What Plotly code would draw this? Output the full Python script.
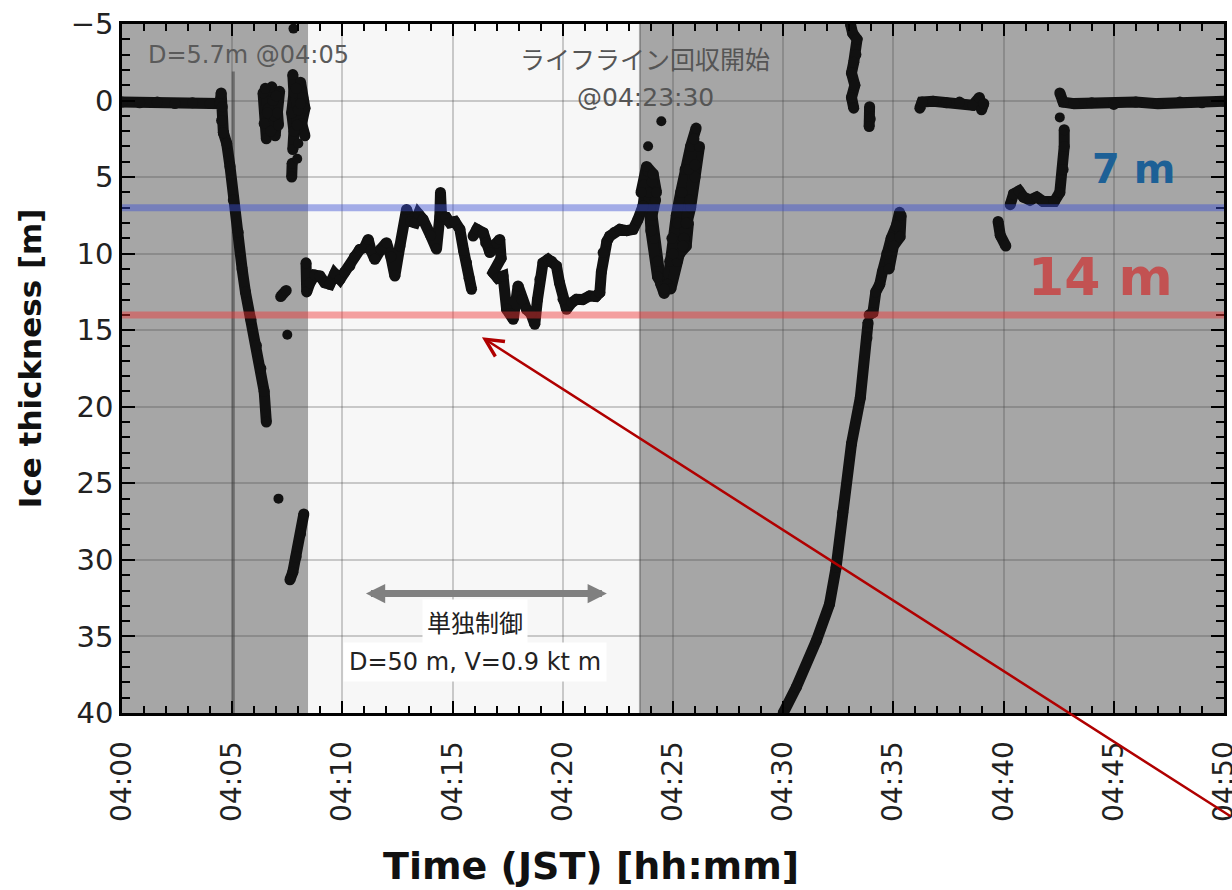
import plotly.graph_objects as go

# ---------------- data (x = minutes after 04:00, y = ice thickness [m]) ----------------
tick_minutes = [0, 5, 10, 15, 20, 25, 30, 35, 40, 45, 50]
tick_labels = ["04:00", "04:05", "04:10", "04:15", "04:20", "04:25",
               "04:30", "04:35", "04:40", "04:45", "04:50"]
y_ticks = [-5, 0, 5, 10, 15, 20, 25, 30, 35, 40]

flat_start_x = [0, 0.8, 1.6, 2.4, 3.2, 4.0, 4.45, 4.5, 4.55, 4.52, 4.6]
flat_start_y = [0.1, 0.15, 0.1, 0.2, 0.15, 0.2, 0.2, -0.5, 0.4, 1.3, 2.1]

drop_x = [4.6, 4.75, 4.9, 5.05, 5.27, 5.45, 5.6, 5.85, 6.1, 6.3, 6.45, 6.55]
drop_y = [2.1, 2.8, 4.3, 6.5, 8.6, 11.0, 12.5, 14.3, 16.0, 17.5, 19.0, 21.0]

blob1_x = [6.4, 6.45, 6.55, 6.65, 6.8, 6.9, 6.95, 7.05, 7.15]
blob1_y = [-0.5, 1.5, 2.5, 0.5, -0.9, 1.0, 2.3, 0.8, -0.6]
blob1b_x = [6.5, 6.6, 6.75, 6.85, 7.0, 7.1]
blob1b_y = [-0.8, 0.8, 2.0, 0.0, -0.3, 1.6]

blob2a_x = [7.75, 7.8, 7.7, 7.8, 7.75]
blob2a_y = [-1.7, -0.5, 0.8, 2.0, 3.2]
blob2b_x = [7.72, 7.7]
blob2b_y = [4.1, 5.0]
blob2c_x = [8.1, 8.2, 8.3, 8.15, 8.3]
blob2c_y = [-1.2, -0.2, 0.5, 1.5, 2.3]
blob2d_x = [7.9, 8.0, 7.95, 8.1]
blob2d_y = [-0.8, 0.6, 1.6, 0.2]

low_left_x = [7.2, 7.45]
low_left_y = [12.8, 12.4]
low_seg_x = [8.25, 8.1, 7.9, 7.75, 7.62]
low_seg_y = [27.0, 28.3, 29.8, 30.8, 31.3]

mid1_x = [8.35, 8.38, 8.53, 8.75, 8.98, 9.2, 9.43, 9.65, 9.89, 10.1, 10.34, 10.55, 10.79,
          11.0, 11.17, 11.3, 11.47, 11.75, 12.0, 12.2, 12.38, 12.61, 12.91, 13.1, 13.29,
          13.45, 13.66, 14.0, 14.27, 14.42, 14.45, 14.5, 14.7, 14.88, 15.1, 15.33,
          15.5, 15.63, 15.75, 15.86]
mid1_y = [10.6, 12.5, 11.9, 11.4, 11.46, 11.9, 12.0, 11.3, 11.68, 11.2, 10.8, 10.2, 9.72,
          9.6, 9.07, 9.8, 10.37, 9.7, 9.28, 10.2, 11.46, 9.5, 7.11, 7.9, 7.98,
          7.4, 7.76, 8.8, 9.7, 7.6, 6.0, 7.55, 7.6, 7.98, 7.9, 8.41,
          9.8, 10.59, 11.6, 12.33]

mid2_x = [15.93, 16.1, 16.39, 16.5, 16.69, 17.0, 17.14, 17.2, 16.84, 17.05, 17.29, 17.45,
          17.6, 17.75, 17.97, 18.15, 18.35, 18.55, 18.73, 18.85, 18.96, 19.1, 19.33,
          19.5, 19.71, 19.85, 20.01, 20.17, 20.4, 20.62, 20.9, 21.22, 21.5, 21.68,
          21.75, 21.83, 22.0, 22.13, 22.35, 22.59, 22.9, 23.19, 23.4, 23.64]
mid2_y = [8.85, 8.4, 8.63, 9.3, 9.93, 9.3, 9.07, 10.3, 11.24, 11.6, 11.46, 13.63,
          13.9, 14.29, 12.11, 13.0, 13.63, 13.9, 14.61, 13.0, 11.68, 10.6, 10.37,
          10.5, 10.81, 11.9, 12.98, 13.63, 13.2, 12.98, 13.0, 12.76, 12.8, 12.54,
          11.2, 9.93, 9.2, 8.85, 8.6, 8.41, 8.5, 8.41, 7.8, 6.89]

clu1_x = [23.64, 23.7, 23.85, 24.05, 24.2, 24.05, 24.15, 24.3, 24.45, 24.6, 24.75]
clu1_y = [6.89, 5.5, 4.6, 5.3, 6.5, 7.5, 9.0, 10.5, 12.0, 12.6, 12.0]
clu2_x = [24.75, 24.85, 24.95, 25.15, 25.35, 25.55, 25.8, 26.05]
clu2_y = [12.0, 10.5, 9.0, 7.5, 6.0, 4.5, 3.0, 1.8]
clu3_x = [24.9, 25.2, 25.5, 25.8, 26.0, 26.2]
clu3_y = [12.3, 10.5, 9.0, 7.0, 5.0, 3.0]
clu4_x = [25.3, 25.6, 25.7]
clu4_y = [10.0, 9.5, 8.0]
clu5_x = [23.9, 24.0, 24.3, 24.6]
clu5_y = [6.0, 8.5, 11.5, 12.3]
clu6_x = [25.0, 25.2, 25.4, 25.7, 25.95]
clu6_y = [10.0, 8.0, 6.0, 4.5, 2.5]
clu7_x = [25.45, 25.6, 25.75, 26.0]
clu7_y = [9.5, 8.0, 6.5, 4.2]
clu8_x = [23.55, 23.8, 24.1, 24.25]
clu8_y = [6.0, 4.3, 4.8, 6.0]

rise_x = [30.0, 30.6, 31.5, 32.1, 32.4, 32.7, 33.1, 33.5, 33.8, 33.85]
rise_y = [40.0, 38.3, 35.3, 32.9, 30.5, 26.9, 22.4, 19.4, 15.5, 14.5]
band1_x = [33.9, 34.07, 34.2, 34.38, 34.5, 34.7, 34.9, 35.13, 35.28]
band1_y = [14.0, 13.85, 12.5, 12.0, 11.2, 10.0, 9.0, 8.2, 7.3]
band2_x = [34.8, 35.0, 35.3, 35.35]
band2_y = [11.0, 9.5, 8.9, 7.5]

top_x = [33.05, 33.15, 33.35, 33.3, 33.2, 33.1, 33.25, 33.1, 33.2]
top_y = [-5.0, -4.4, -4.0, -3.0, -2.5, -1.8, -1.0, -0.2, 0.5]
top_blob_x = [33.92, 33.95, 33.9]
top_blob_y = [0.4, 1.2, 1.7]

flat_mid_x = [36.2, 36.3, 36.8, 37.4, 38.0, 38.6, 38.9, 39.0, 39.1]
flat_mid_y = [0.5, 0.1, 0.05, 0.15, 0.1, 0.3, -0.2, 0.6, 0.2]

short_x = [39.75, 39.85, 40.1]
short_y = [7.9, 8.8, 9.5]

hook_x = [40.3, 40.45, 40.7, 40.9, 41.2, 41.5, 41.8, 42.3, 42.55, 42.7, 42.75, 42.75]
hook_y = [6.8, 6.1, 5.9, 6.3, 6.5, 6.3, 6.6, 6.6, 6.0, 4.5, 3.0, 1.9]

flat_end_x = [42.55, 42.7, 43.2, 44, 45, 46, 47, 48, 49, 50]
flat_end_y = [-0.5, 0.1, 0.2, 0.15, 0.25, 0.1, 0.2, 0.1, 0.15, 0.05]

dots_x = [7.78, 8.0, 7.95, 7.5, 7.1, 24.47, 23.87, 42.55]
dots_y = [-4.7, 2.8, 3.8, 15.3, 26.0, 1.35, 2.98, 1.1]

level_blue = 7
level_red = 14
gray_spans = [(0, 8.44), (23.5, 50)]

# ---------------- build ----------------
segments = [
    (flat_start_x, flat_start_y), (drop_x, drop_y), (blob1_x, blob1_y), (blob1b_x, blob1b_y),
    (blob2a_x, blob2a_y), (blob2b_x, blob2b_y), (blob2c_x, blob2c_y), (blob2d_x, blob2d_y),
    (low_left_x, low_left_y), (low_seg_x, low_seg_y),
    (mid1_x, mid1_y), (mid2_x, mid2_y),
    (clu1_x, clu1_y), (clu2_x, clu2_y), (clu3_x, clu3_y), (clu4_x, clu4_y),
    (clu5_x, clu5_y), (clu6_x, clu6_y), (clu7_x, clu7_y), (clu8_x, clu8_y),
    (rise_x, rise_y), (band1_x, band1_y), (band2_x, band2_y),
    (top_x, top_y), (top_blob_x, top_blob_y),
    (flat_mid_x, flat_mid_y), (short_x, short_y), (hook_x, hook_y),
    (flat_end_x, flat_end_y),
]
all_x, all_y = [], []
for sx, sy in segments:
    all_x += list(sx) + [None]
    all_y += list(sy) + [None]

FONT = "DejaVu Sans, Noto Sans CJK JP, sans-serif"
JFONT = "Noto Sans CJK JP, DejaVu Sans, sans-serif"

fig = go.Figure()
fig.add_trace(go.Scatter(
    x=all_x, y=all_y, mode="lines+markers", connectgaps=False,
    line=dict(color="#111111", width=11),
    marker=dict(color="#111111", size=11),
    showlegend=False, hoverinfo="skip"))
fig.add_trace(go.Scatter(
    x=dots_x, y=dots_y, mode="markers",
    marker=dict(color="#111111", size=10),
    showlegend=False, hoverinfo="skip"))

shapes = []
for x0, x1 in gray_spans:
    shapes.append(dict(type="rect", xref="x", yref="y", x0=x0, x1=x1, y0=-5, y1=40,
                       fillcolor="#a6a6a6", line=dict(width=0), layer="below"))
shapes.append(dict(type="line", xref="x", yref="y", x0=5.05, x1=5.05, y0=-1.9, y1=40,
                   line=dict(color="rgba(70,70,70,0.6)", width=3), layer="below"))
shapes.append(dict(type="line", xref="x", yref="y", x0=23.5, x1=23.5, y0=-5, y1=40,
                   line=dict(color="rgba(90,90,90,0.5)", width=2), layer="below"))
shapes.append(dict(type="line", xref="x", yref="y", x0=0, x1=50, y0=level_blue, y1=level_blue,
                   line=dict(color="rgba(60,80,210,0.45)", width=7), layer="above"))
shapes.append(dict(type="line", xref="x", yref="y", x0=0, x1=50, y0=level_red, y1=level_red,
                   line=dict(color="rgba(240,50,50,0.45)", width=7), layer="above"))

annotations = [
    dict(x=5.75, y=-3.0, xref="x", yref="y", text="D=5.7m @04:05", showarrow=False,
         font=dict(family=FONT, size=24, color="#5a5a5a")),
    dict(x=23.75, y=-2.8, xref="x", yref="y", text="ライフライン回収開始", showarrow=False,
         font=dict(family=JFONT, size=25, color="#555555")),
    dict(x=23.75, y=-0.2, xref="x", yref="y", text="@04:23:30", showarrow=False,
         font=dict(family=FONT, size=25, color="#555555")),
    dict(x=16.0, y=34.0, xref="x", yref="y", text="単独制御", showarrow=False,
         bgcolor="white", borderpad=4,
         font=dict(family=JFONT, size=24, color="#222222")),
    dict(x=16.0, y=36.7, xref="x", yref="y", text="D=50 m, V=0.9 kt m", showarrow=False,
         bgcolor="white", borderpad=5,
         font=dict(family=FONT, size=24, color="#222222")),
    dict(x=22.0, y=32.2, ax=11.0, ay=32.2, xref="x", yref="y", axref="x", ayref="y",
         text="", showarrow=True, arrowside="end+start", arrowhead=2, arrowsize=0.55,
         arrowwidth=7, arrowcolor="#808080"),
    dict(x=45.9, y=4.5, xref="x", yref="y", text="<b>7 m</b>", showarrow=False,
         font=dict(family=FONT, size=40, color="#1d6096")),
    dict(x=44.4, y=11.5, xref="x", yref="y", text="<b>14 m</b>", showarrow=False,
         font=dict(family=FONT, size=52, color="#c25252")),
    dict(x=16.33, y=15.46, xref="x", yref="y", ax=760, ay=480, text="",
         showarrow=True, arrowhead=5, arrowsize=1.4, arrowwidth=2.5,
         arrowcolor="#b00000", standoff=0),
    dict(x=-0.0835, y=0.515, xref="paper", yref="paper", xanchor="center", yanchor="middle",
         text="<b>Ice thickness [m]</b>",
         textangle=-90, showarrow=False, font=dict(family=FONT, size=31, color="#111111")),
    dict(x=0.4256, y=-0.222, xref="paper", yref="paper", xanchor="center", yanchor="middle",
         text="<b>Time (JST) [hh:mm]</b>",
         showarrow=False, font=dict(family=FONT, size=38, color="#111111")),
]

grid_col = "rgba(60,60,60,0.25)"
fig.update_layout(
    width=1232, height=890,
    margin=dict(l=122, r=8, t=24, b=177, autoexpand=False),
    paper_bgcolor="white", plot_bgcolor="#f7f7f7",
    shapes=shapes, annotations=annotations,
    font=dict(family=FONT, color="#222222"),
    xaxis=dict(range=[0, 50], tickvals=tick_minutes, ticktext=tick_labels, tickangle=-90,
               tickfont=dict(size=28, family=FONT, color="#222222"),
               ticklabelstandoff=14, ticklabeloverflow="allow", automargin=False,
               ticks="inside", ticklen=12, tickwidth=2, tickcolor="black",
               minor=dict(ticks="inside", ticklen=7, dtick=1, tickwidth=2, tickcolor="black",
                          showgrid=False),
               showgrid=True, gridcolor=grid_col, gridwidth=1.5,
               showline=True, linecolor="black", linewidth=3, mirror="ticks",
               zeroline=False),
    yaxis=dict(range=[40, -5], tickvals=y_ticks, automargin=False,
               tickfont=dict(size=29, family=FONT, color="#222222"),
               ticks="inside", ticklen=13, tickwidth=2, tickcolor="black",
               minor=dict(ticks="inside", ticklen=8, dtick=1, tickwidth=2, tickcolor="black",
                          showgrid=False),
               showgrid=True, gridcolor=grid_col, gridwidth=1.5,
               showline=True, linecolor="black", linewidth=2.5, mirror="ticks",
               zeroline=False),
)

fig.write_html("out.html", config={"displayModeBar": False},
               post_script="document.body.style.margin='0';")
